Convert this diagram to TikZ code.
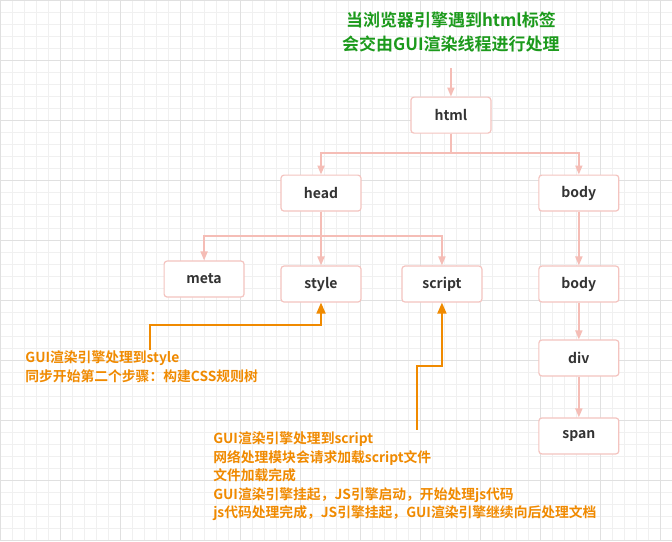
\documentclass[tikz,border=0pt]{standalone}
\usepackage{fontspec}
\setmainfont{Noto Sans CJK SC}[BoldFont={Noto Sans CJK SC Bold}]
\usetikzlibrary{positioning,arrows.meta}
\definecolor{boxline}{HTML}{F4C4C0}
\definecolor{linkline}{HTML}{F5BDB6}
\definecolor{note}{HTML}{F08A00}
\definecolor{title}{HTML}{1C9A1C}
\begin{document}
\begin{tikzpicture}[x=1pt,y=-1pt,
 tag/.style={draw=boxline,line width=1.2pt,rounded corners=3pt,fill=white,minimum width=80pt,minimum height=36pt,font=\bfseries\fontsize{14}{16}\selectfont,text=black!80},
 link/.style={draw=linkline,line width=1.8pt,-{Triangle[width=7pt,length=9pt]}},
 call/.style={draw=note,line width=1.8pt,-{Triangle[width=9pt,length=11pt]}},
 notes/.style={text=note,font=\bfseries\fontsize{13.8}{18.5}\selectfont,align=left,anchor=north west,inner sep=0pt}]
\fill[white] (0,0) rectangle (672,541);
\draw[black!6,step=12pt] (0,0) grid (672,541);
\draw[black!12,step=60pt] (0,0) grid (672,541);
\useasboundingbox (0,0) rectangle (672,541);
% title
\node[text=title,font=\bfseries\fontsize{17}{24}\selectfont,align=center] (title) at (451,32) {当浏览器引擎遇到html标签\\会交由GUI渲染线程进行处理};
% tree
\node[tag] (html) at (451,115) {html};
\node[tag] (head) at (321,193) {head};
\node[tag] (body) at (579,193) {body};
\node[tag] (meta) at (204,279) {meta};
\node[tag] (style) at (321,284) {style};
\node[tag] (script) at (442,284) {script};
\node[tag] (body2) at (579,284) {body};
\node[tag] (div) at (579,358) {div};
\node[tag] (span) at (579,436) {span};
\coordinate (entry) at (451,68);
\draw[link] (entry) -- (html);
\draw[link] (html.south) -- ++(0,19) -| (head.north);
\draw[link] (html.south) -- ++(0,19) -| (body.north);
\draw[link] (head) -- (style);
\draw[link] (head.south) -- ++(0,24) -| (meta.north);
\draw[link] (head.south) -- ++(0,24) -| (script.north);
\draw[link] (body) -- (body2);
\draw[link] (body2) -- (div);
\draw[link] (div) -- (span);
% notes
\coordinate (n1) at (150,350);
\coordinate (n2) at (417,430);
\draw[call] (n1) |- ++(171,-25) -- (style.south);
\draw[call] (n2) |- ++(25,-64) -- (script.south);
\node[notes] (css) at (25,351) {GUI渲染引擎处理到style\\同步开始第二个步骤：构建CSS规则树};
\node[notes] (js) at (213,432) {GUI渲染引擎处理到script\\网络处理模块会请求加载script文件\\文件加载完成\\GUI渲染引擎挂起，JS引擎启动，开始处理js代码\\js代码处理完成，JS引擎挂起，GUI渲染引擎继续向后处理文档};
\end{tikzpicture}
\end{document}
